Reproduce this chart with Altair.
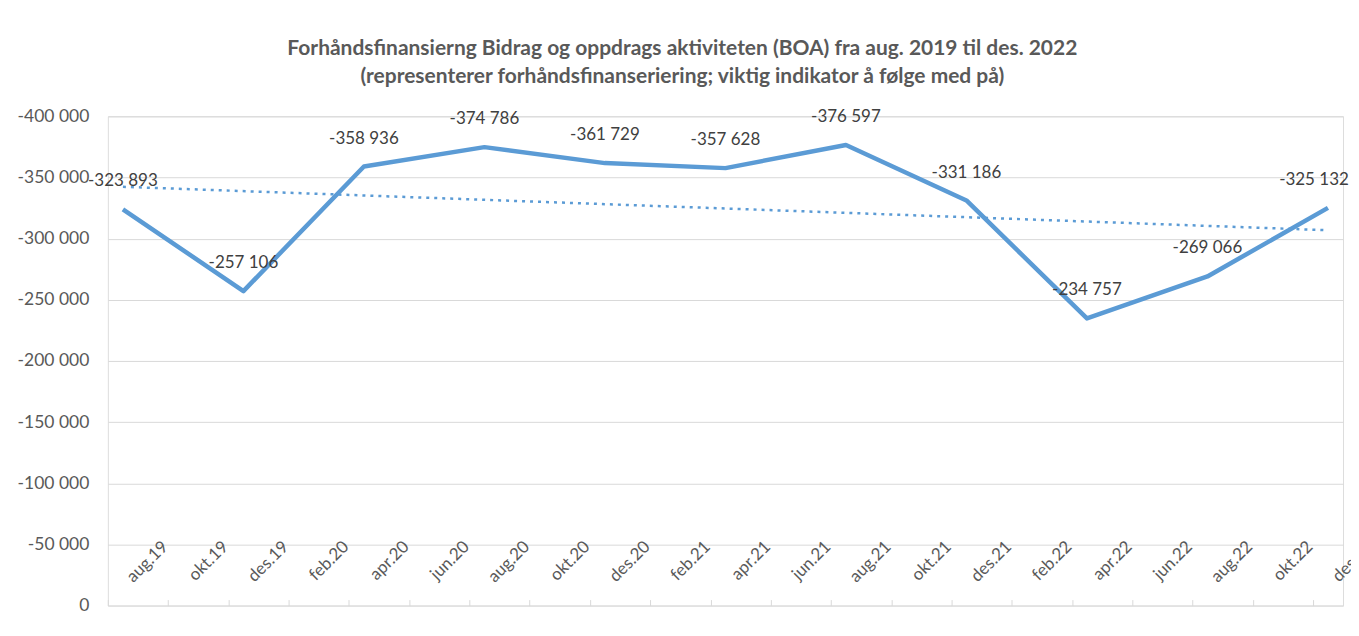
import altair as alt
import pandas as pd

# Category labels on the x axis (every second month)
categories = ["aug.19", "okt.19", "des.19", "feb.20", "apr.20", "jun.20", "aug.20",
              "okt.20", "des.20", "feb.21", "apr.21", "jun.21", "aug.21", "okt.21",
              "des.21", "feb.22", "apr.22", "jun.22", "aug.22", "okt.22", "des.22"]

# Data points (every fourth month)
months = ["aug.19", "des.19", "apr.20", "aug.20", "des.20", "apr.21",
          "aug.21", "des.21", "apr.22", "aug.22", "des.22"]
values = [-323893, -257106, -358936, -374786, -361729, -357628,
          -376597, -331186, -234757, -269066, -325132]

title_lines = ["Forhåndsfinansierng Bidrag og oppdrags aktiviteten (BOA) fra aug. 2019 til des. 2022",
               "(representerer forhåndsfinanseriering; viktig indikator å følge med på)"]

df = pd.DataFrame({
    "month": months,
    "idx": [2 * categories.index(m) for m in months],
    "v": values,
})

FONT = "Lato"
BLUE = "#5B9BD5"
GREY = "#595959"

label_array = "[" + ",".join("'" + c + "'" for c in categories) + "]"

x = alt.X("idx:Q",
          scale=alt.Scale(domain=[-0.5, 40.5], nice=False, zero=False),
          axis=alt.Axis(values=list(range(0, 41, 2)),
                        labelExpr=label_array + "[round(datum.value/2)]",
                        labelAngle=-45, labelAlign="right", labelBaseline="middle",
                        labelOffset=57, labelPadding=-62, offset=-6,
                        tickSize=6, tickOffset=-15, tickColor="#d9d9d9",
                        domain=False, grid=False, title=None,
                        labelFont=FONT, labelFontSize=17, labelColor=GREY,
                        labelOverlap=False, labelBound=False, labelFlush=False))
y = alt.Y("v:Q",
          scale=alt.Scale(domain=[-400000, 0], reverse=True, nice=False),
          axis=alt.Axis(values=list(range(-400000, 1, 50000)), format=",.0f",
                        domain=False, ticks=False, grid=True, gridColor="#d9d9d9",
                        labelPadding=19, title=None, labelFont=FONT,
                        labelFontSize=17.5, labelColor=GREY))

base = alt.Chart(df)

trend = base.transform_regression("idx", "v").mark_line(
    color=BLUE, strokeWidth=2.5, strokeDash=[3, 5]
).encode(x=x, y=y)

line = base.mark_line(color=BLUE, strokeWidth=4.5, strokeJoin="round").encode(x=x, y=y)

last = months[-1]
labels = base.transform_filter(alt.datum.month != last).mark_text(
    dy=-28, font=FONT, fontSize=17, color="#404040").encode(
    x=x, y=y, text=alt.Text("v:Q", format=",.0f"))
label_last = base.transform_filter(alt.datum.month == last).mark_text(
    dy=-28, dx=-14, font=FONT, fontSize=17, color="#404040").encode(
    x=x, y=y, text=alt.Text("v:Q", format=",.0f"))

chart = alt.layer(trend, line, labels, label_last).properties(
    width=1237, height=490,
    autosize=alt.AutoSizeParams(type="none"),
    padding={"left": 100, "top": 108, "right": 8, "bottom": 20},
    title=alt.TitleParams(text=title_lines, font=FONT, fontSize=21, fontWeight="bold",
                          color=GREY, anchor="middle", frame="bounds",
                          lineHeight=28, offset=20, dx=-14),
    background="white",
).configure_view(stroke=None).configure(
    locale={"number": {"decimal": ",", "thousands": " ", "grouping": [3],
                       "currency": ["", " kr"], "minus": "-"}}
)

chart.save("out.html", embed_options={"renderer": "svg", "actions": False})
